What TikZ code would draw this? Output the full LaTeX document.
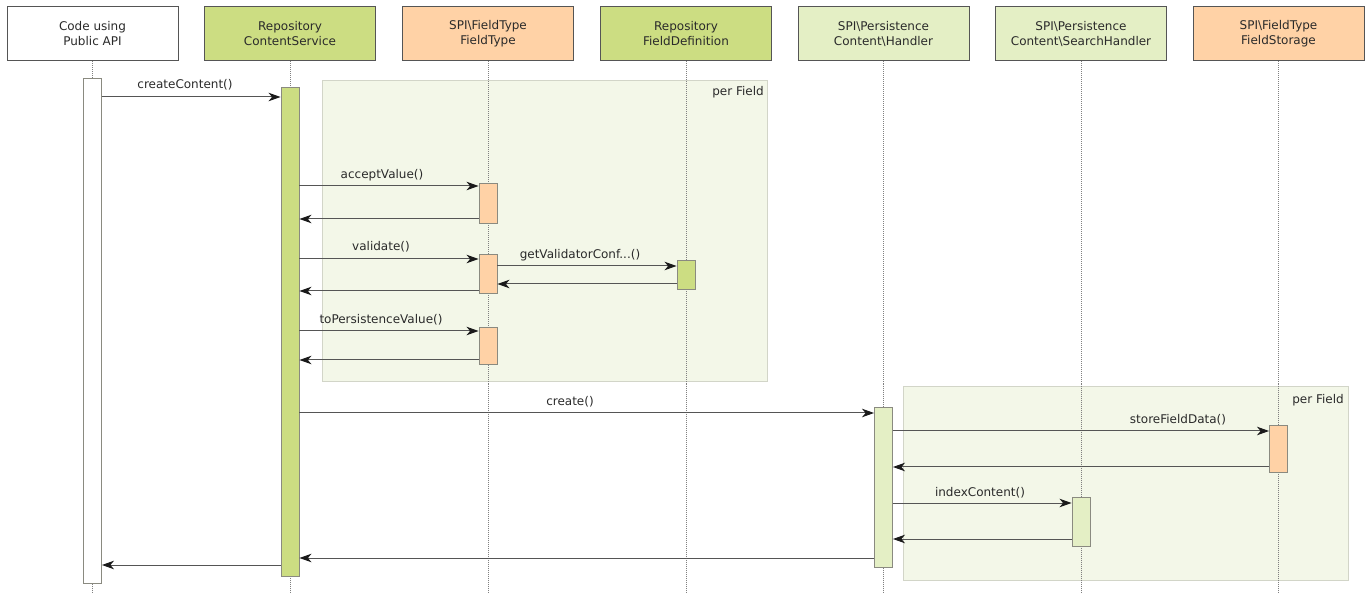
\documentclass[tikz,border=0pt]{standalone}
\usepackage{fontspec}
\setmainfont{DejaVu Sans}
\usetikzlibrary{arrows.meta}
\definecolor{hgreen}{HTML}{CCDD82}
\definecolor{horange}{HTML}{FFD2A6}
\definecolor{hlight}{HTML}{E4EFC5}
\definecolor{fragfill}{HTML}{F3F7E8}
\definecolor{fragline}{HTML}{D2D5C8}
\definecolor{txt}{HTML}{2A2A2A}
\definecolor{boxline}{HTML}{555555}
\definecolor{actline}{HTML}{8A8A80}
\definecolor{msgline}{HTML}{555555}
\definecolor{tipcol}{HTML}{1A1A1A}
\tikzset{
  hdr/.style={draw=boxline, line width=1pt, minimum width=171pt, minimum height=54pt, inner sep=0pt, align=center, text=txt},
  act/.style={draw=actline, line width=0.9pt, minimum width=18pt, inner sep=0pt, anchor=north},
  life/.style={draw=gray, line width=0.8pt, dash pattern=on 1pt off 1pt},
  msg/.style={draw=msgline, line width=1pt, -{Stealth[length=12pt,width=8.5pt,inset=3.5pt,color=tipcol]}},
  lbl/.style={anchor=base, text=txt, inner sep=0pt},
  frag/.style={draw=fragline, fill=fragfill, line width=1pt},
}
\begin{document}
\begin{tikzpicture}[x=1pt,y=-1pt,font=\fontsize{12}{15}\selectfont]
\useasboundingbox (0,0) rectangle (1366,593);
% fragments
\draw[frag] (322,81) rectangle (767,382);
\node[lbl, anchor=base east] (pf1) at (764,95.5) {per Field};
\draw[frag] (903,387) rectangle (1348,580);
\node[lbl, anchor=base east] (pf2) at (1344,403.5) {per Field};
% headers
\node[hdr, fill=white]    (h1) at (92.5,34)  {Code using\\Public API};
\node[hdr, fill=hgreen]   (h2) at (290,34)   {Repository\\ContentService};
\node[hdr, fill=horange]  (h3) at (488,34)   {SPI\textbackslash FieldType\\FieldType};
\node[hdr, fill=hgreen]   (h4) at (686,34)   {Repository\\FieldDefinition};
\node[hdr, fill=hlight]   (h5) at (883.5,34) {SPI\textbackslash Persistence\\Content\textbackslash Handler};
\node[hdr, fill=hlight]   (h6) at (1081,34)  {SPI\textbackslash Persistence\\Content\textbackslash SearchHandler};
\node[hdr, fill=horange]  (h7) at (1278.5,34){SPI\textbackslash FieldType\\FieldStorage};
% lifelines
\foreach \i in {1,...,7}{
  \coordinate (e\i) at (h\i.south |- 0,593);
  \draw[life] (h\i.south) -- (e\i);
}
% activations
\node[act, fill=white,   minimum height=505pt] (a1)  at (92.5,78) {};
\node[act, fill=hgreen,  minimum height=489pt] (a2)  at (290,87) {};
\node[act, fill=horange, minimum height=40pt]  (ft1) at (488,183) {};
\node[act, fill=horange, minimum height=39pt]  (ft2) at (488,254) {};
\node[act, fill=horange, minimum height=37pt]  (ft3) at (488,327) {};
\node[act, fill=hgreen,  minimum height=29pt]  (fd)  at (686,260) {};
\node[act, fill=hlight,  minimum height=160pt] (ph)  at (883.5,407) {};
\node[act, fill=hlight,  minimum height=49pt]  (sh)  at (1081,497) {};
\node[act, fill=horange, minimum height=47pt]  (fs)  at (1278.5,425) {};
% messages
\draw[msg] (a1.east |- 0,97) -- (a2.west |- 0,97);
\node[lbl] (l1) at (185,89) {createContent()};
\draw[msg] (a2.east |- 0,186) -- (ft1.west |- 0,186);
\node[lbl] (l2) at (382,178.5) {acceptValue()};
\draw[msg] (ft1.west |- 0,219) -- (a2.east |- 0,219);
\draw[msg] (a2.east |- 0,259) -- (ft2.west |- 0,259);
\node[lbl] (l3) at (381,250.5) {validate()};
\draw[msg] (ft2.west |- 0,291) -- (a2.east |- 0,291);
\draw[msg] (ft2.east |- 0,266) -- (fd.west |- 0,266);
\node[lbl] (l4) at (580,258.5) {getValidatorConf...()};
\draw[msg] (fd.west |- 0,284) -- (ft2.east |- 0,284);
\draw[msg] (a2.east |- 0,331) -- (ft3.west |- 0,331);
\node[lbl] (l5) at (381,323.5) {toPersistenceValue()};
\draw[msg] (ft3.west |- 0,360) -- (a2.east |- 0,360);
\draw[msg] (a2.east |- 0,413) -- (ph.west |- 0,413);
\node[lbl] (l6) at (570,405.5) {create()};
\draw[msg] (ph.east |- 0,431) -- (fs.west |- 0,431);
\node[lbl] (l7) at (1178,423.5) {storeFieldData()};
\draw[msg] (fs.west |- 0,467) -- (ph.east |- 0,467);
\draw[msg] (ph.east |- 0,503) -- (sh.west |- 0,503);
\node[lbl] (l8) at (980,496.5) {indexContent()};
\draw[msg] (sh.west |- 0,539) -- (ph.east |- 0,539);
\draw[msg] (ph.west |- 0,558) -- (a2.east |- 0,558);
\draw[msg] (a2.west |- 0,565) -- (a1.east |- 0,565);
\end{tikzpicture}
\end{document}
